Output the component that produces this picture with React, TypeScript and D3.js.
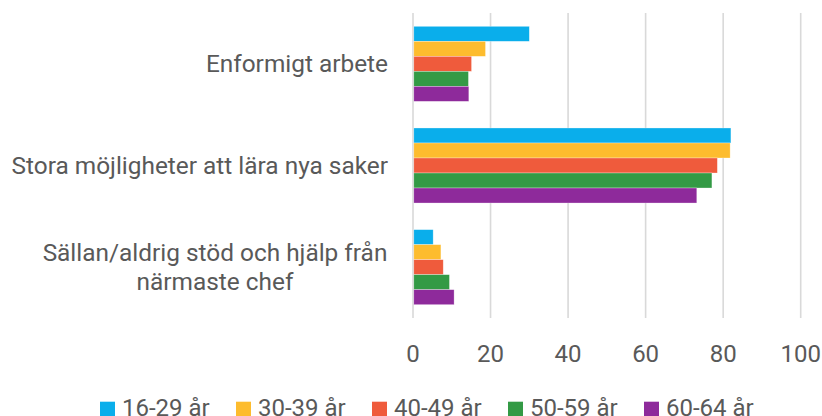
import React from "react";
import * as d3 from "d3";

const categories = [
  ["Enformigt arbete"],
  ["Stora möjligheter att lära nya saker"],
  ["Sällan/aldrig stöd och hjälp från", "närmaste chef"],
];
const seriesNames = ["16-29 år", "30-39 år", "40-49 år", "50-59 år", "60-64 år"];
const seriesColors = ["#0AAEEB", "#FDBC2E", "#EF5B3C", "#339A45", "#8E2A9B"];
const values16_29 = [30.0, 82.0, 5.2];
const values30_39 = [18.7, 81.8, 7.2];
const values40_49 = [15.1, 78.5, 7.8];
const values50_59 = [14.3, 77.1, 9.4];
const values60_64 = [14.4, 73.2, 10.6];
const xTicks = [0, 20, 40, 60, 80, 100];

const W = 822;
const H = 416;
const FONT = "Roboto, 'Noto Sans', sans-serif";
const TEXT = "#595959";

export default function App() {
  const series = [values16_29, values30_39, values40_49, values50_59, values60_64];
  const x = d3.scaleLinear().domain([0, 100]).range([413, 800.7]);
  const y = d3
    .scaleBand<number>()
    .domain(d3.range(categories.length))
    .range([13, 318])
    .paddingInner(0.262)
    .paddingOuter(0.131);
  const ys = d3
    .scaleBand<number>()
    .domain(d3.range(seriesNames.length))
    .range([0, y.bandwidth()]);

  const legendX = d3.scaleLinear().domain([0, 1]).range([100, 236]);

  return (
    <svg
      width={W}
      height={H}
      style={{ position: "absolute", left: 0, top: 0, background: "#fff" }}
      fontFamily={FONT}
    >
      {xTicks.map((t) => (
        <line
          key={"g" + t}
          x1={x(t)}
          x2={x(t)}
          y1={13}
          y2={318}
          stroke="#D9D9D9"
          strokeWidth={1.6}
        />
      ))}
      {categories.map((_, ci) =>
        series.map((vals, si) => (
          <rect
            key={ci + "-" + si}
            x={x(0) + 0.8}
            y={(y(ci) as number) + (ys(si) as number)}
            width={x(vals[ci]) - x(0) - 0.8}
            height={ys.bandwidth()}
            fill={seriesColors[si]}
            stroke="#ffffff"
            strokeOpacity={0.5}
            strokeWidth={0.6}
          />
        ))
      )}
      {categories.map((lines, ci) => {
        const cy = (y(ci) as number) + y.bandwidth() / 2;
        const lh = 29;
        const n = lines.length;
        const multi = n > 1;
        return (
          <text
            key={"c" + ci}
            fill={TEXT}
            fontSize={24.4}
            textAnchor={multi ? "middle" : "end"}
          >
            {lines.map((ln, li) => (
              <tspan
                key={li}
                x={multi ? 215 : 388}
                y={cy + 8.6 + (li - (n - 1) / 2) * lh}
              >
                {ln}
              </tspan>
            ))}
          </text>
        );
      })}
      {xTicks.map((t) => (
        <text
          key={"t" + t}
          x={x(t)}
          y={362.3}
          fill={TEXT}
          fontSize={24}
          textAnchor="middle"
        >
          {t}
        </text>
      ))}
      {seriesNames.map((name, i) => (
        <g key={"l" + i} transform={`translate(${legendX(i)},0)`}>
          <rect x={0} y={401.7} width={15} height={15} fill={seriesColors[i]} />
          <text x={22} y={415.7} fill={TEXT} fontSize={24}>
            {name}
          </text>
        </g>
      ))}
    </svg>
  );
}
